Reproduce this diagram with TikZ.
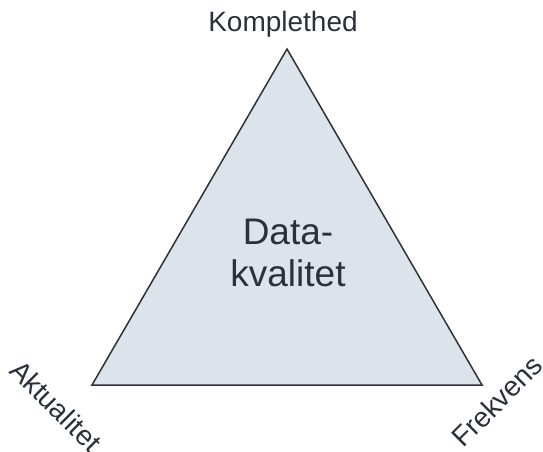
\documentclass[tikz,border=0pt]{standalone}
\usepackage{fontspec}
\setmainfont{Liberation Sans}
\definecolor{triFill}{HTML}{DDE3EA}
\definecolor{triLine}{HTML}{2E3238}
\definecolor{labelInk}{HTML}{2B313A}
\begin{document}
\begin{tikzpicture}[x=1pt,y=-1pt,
  corner/.style={font=\fontsize{28}{32}\selectfont, text=labelInk, inner sep=0pt},
  centre/.style={font=\fontsize{37}{42}\selectfont, text=labelInk, align=center, inner sep=0pt}]
  \useasboundingbox (0,0) rectangle (543,452);
  % triangle corners
  \coordinate (top) at (287,49);
  \coordinate (bl) at (92,385);
  \coordinate (br) at (482,385);
  \draw[fill=triFill, draw=triLine, line width=1.5pt, line join=miter] (top) -- (bl) -- (br) -- cycle;
  % labels
  \node[centre] (dq) at (288,253) {Data-\\kvalitet};
  \node[corner] (kompl) at (283,24) {Komplethed};
  \node[corner, rotate=-45] (aktu) at (56,406) {Aktualitet};
  \node[corner, rotate=45] (frek) at (497,401) {Frekvens};
\end{tikzpicture}
\end{document}
